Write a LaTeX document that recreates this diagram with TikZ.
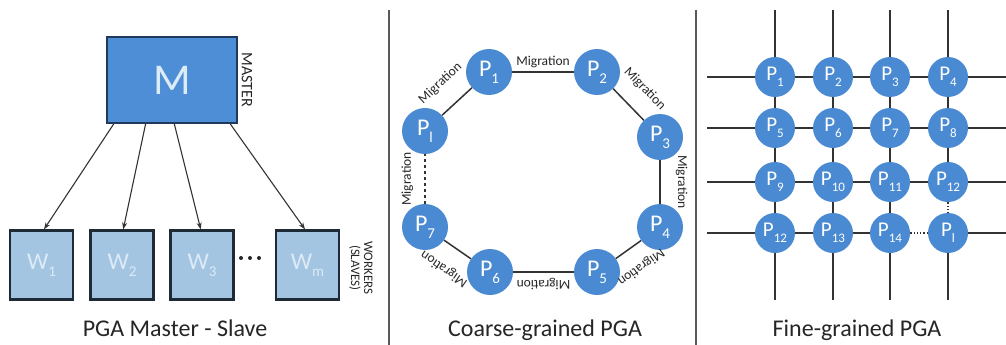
\documentclass[tikz,border=0pt]{standalone}
\usepackage{fontspec}
\setmainfont{Carlito}
\usetikzlibrary{arrows.meta}

\definecolor{ringblue}{HTML}{4A8AD2}
\definecolor{masterblue}{HTML}{4D8ED6}
\definecolor{masteredge}{HTML}{1F3A5A}
\definecolor{workerblue}{HTML}{A3C5E2}
\definecolor{workeredge}{HTML}{1E2A36}
\definecolor{workertext}{HTML}{DCEBF6}
\definecolor{inkgray}{HTML}{333333}

% letter with a lowered index in a given size
\newcommand\idx[3]{#1\raisebox{-0.3em}{\fontsize{#3}{#3}\selectfont #2}}
\newcommand\fs[1]{\fontsize{#1}{#1}\selectfont}

\tikzset{
  master/.style={draw=masteredge, line width=1.8pt, fill=masterblue,
    minimum width=130pt, minimum height=86pt, inner sep=0pt,
    text=workertext, font=\fs{44}},
  worker/.style={draw=workeredge, line width=2.2pt, fill=workerblue,
    minimum width=63pt, minimum height=69pt, inner sep=0pt,
    text=workertext, font=\fs{24}},
  ring/.style={circle, fill=ringblue, minimum size=46pt, inner sep=0pt,
    text=white, font=\fs{24}},
  cell/.style={circle, fill=ringblue, minimum size=40pt, inner sep=0pt,
    text=white, font=\fs{21}},
  job/.style={-{Stealth[length=7pt,width=5pt]}, line width=1.1pt, draw=inkgray},
  link/.style={line width=1.5pt, draw=inkgray},
  gridline/.style={line width=2.3pt, draw=inkgray},
  sepline/.style={line width=2pt, draw=black!65},
  mig/.style={font=\fs{13.5}, text=black!85, sloped, allow upside down,
    inner sep=0pt, midway},
  caption/.style={font=\fs{24}, text=black!85, anchor=base},
  sidetag/.style={font=\fs{16}, text=black!85, rotate=-90, align=center}
}

\begin{document}
\begin{tikzpicture}[x=1pt, y=-1pt]
\useasboundingbox[fill=white] (0,0) rectangle (1006,345);

% ---------- master / slave ----------
\node[master] (M) at (172,80) {M};
\node[sidetag] (mtag) at (247,80) {MASTER};
\node[worker] (w1) at (41.5,265) {\idx{W}{1}{15}};
\node[worker] (w2) at (122,265) {\idx{W}{2}{15}};
\node[worker] (w3) at (202,265) {\idx{W}{3}{15}};
\node[worker] (wm) at (307.5,265) {\idx{W}{m}{15}};
\node[sidetag, font=\fs{13}, inner sep=0pt] (wtag) at (361,268) {WORKERS\\(SLAVES)};
\foreach \x [count=\i] in {241,250,259}
  \fill[black!85] (\x,258) circle (2pt) coordinate (dot\i);

\draw[job] (M.217) -- (w1.86);
\draw[job] (M.-121) -- (w2.88);
\draw[job] (M.-87) -- (w3.92);
\draw[job] (M.-37.5) -- (wm.94);

\node[caption] (cap1) at (175,336) {PGA Master - Slave};

% ---------- separators ----------
\coordinate (s1t) at (389,10); \coordinate (s1b) at (389,345);
\coordinate (s2t) at (696,10); \coordinate (s2b) at (696,345);
\draw[sepline] (s1t) -- (s1b);
\draw[sepline] (s2t) -- (s2b);

% ---------- coarse-grained ring ----------
\node[ring] (p1) at (489,72)  {\idx{P}{1}{15}};
\node[ring] (p2) at (597,72)  {\idx{P}{2}{15}};
\node[ring] (p3) at (660,137) {\idx{P}{3}{15}};
\node[ring] (p4) at (660,227) {\idx{P}{4}{15}};
\node[ring] (p5) at (597,272) {\idx{P}{5}{15}};
\node[ring] (p6) at (490,272) {\idx{P}{6}{15}};
\node[ring] (p7) at (425,227) {\idx{P}{7}{15}};
\node[ring] (pl) at (425,131) {\idx{P}{l}{15}};

\draw[link] (p1) -- node[mig, above=3pt] {Migration} (p2);
\draw[link] (p2) -- node[mig, above=16pt] {Migration} (p3);
\draw[link] (p3) -- node[mig, above=15pt] {Migration} (p4);
\draw[link] (p4) -- node[mig, above=15pt] {Migration} (p5);
\draw[link] (p5) -- node[mig, above=5pt] {Migration} (p6);
\draw[link] (p6) -- node[mig, above=17pt] {Migration} (p7);
\draw[link, dashed] (p7) -- node[mig, above=11pt] {Migration} (pl);
\draw[link] (pl) -- node[mig, above=18pt] {Migration} (p1);

\node[caption] (cap2) at (545,336) {Coarse-grained PGA};

% ---------- fine-grained grid ----------
\foreach \y [count=\r] in {77,128,182,233} {
  \coordinate (hl\r) at (707,\y);
  \coordinate (hr\r) at (1006,\y);
}
\foreach \x [count=\c] in {775,833,890,948} {
  \coordinate (vt\c) at (\x,10);
  \coordinate (vb\c) at (\x,300);
}

\node[cell] (g11) at (775,77)  {\idx{P}{1}{13}};
\node[cell] (g12) at (833,77)  {\idx{P}{2}{13}};
\node[cell] (g13) at (890,77)  {\idx{P}{3}{13}};
\node[cell] (g14) at (948,77)  {\idx{P}{4}{13}};
\node[cell] (g21) at (775,128) {\idx{P}{5}{13}};
\node[cell] (g22) at (833,128) {\idx{P}{6}{13}};
\node[cell] (g23) at (890,128) {\idx{P}{7}{13}};
\node[cell] (g24) at (948,128) {\idx{P}{8}{13}};
\node[cell] (g31) at (775,182) {\idx{P}{9}{13}};
\node[cell] (g32) at (833,182) {\idx{P}{10}{13}};
\node[cell] (g33) at (890,182) {\idx{P}{11}{13}};
\node[cell] (g34) at (948,182) {\idx{P}{12}{13}};
\node[cell] (g41) at (775,233) {\idx{P}{12}{13}};
\node[cell] (g42) at (833,233) {\idx{P}{13}{13}};
\node[cell] (g43) at (890,233) {\idx{P}{14}{13}};
\node[cell] (g44) at (948,233) {\idx{P}{l}{13}};

% rows
\foreach \r in {1,2,3}
  \draw[gridline] (hl\r) -- (g\r1) -- (g\r2) -- (g\r3) -- (g\r4) -- (hr\r);
\draw[gridline] (hl4) -- (g41) -- (g42) -- (g43);
\draw[line width=1.3pt, draw=inkgray, dotted] (g43) -- (g44);
\draw[gridline] (g44) -- (hr4);
% columns
\foreach \c in {1,2,3}
  \draw[gridline] (vt\c) -- (g1\c) -- (g2\c) -- (g3\c) -- (g4\c) -- (vb\c);
\draw[gridline] (vt4) -- (g14) -- (g24) -- (g34);
\draw[line width=1.3pt, draw=inkgray, dotted] (g34) -- (g44);
\draw[gridline] (g44) -- (vb4);

\node[caption] (cap3) at (857,336) {Fine-grained PGA};
\end{tikzpicture}
\end{document}
